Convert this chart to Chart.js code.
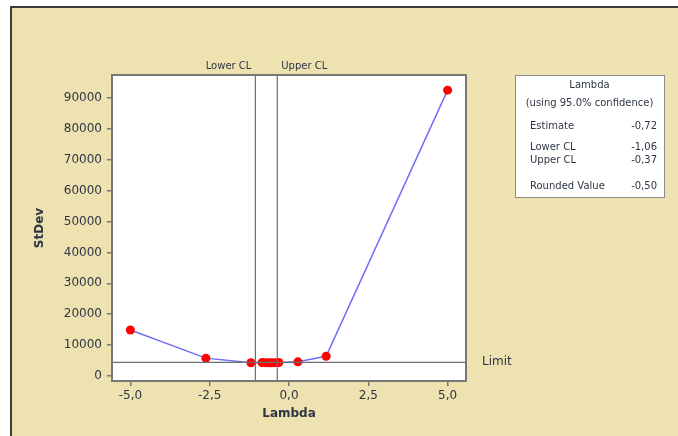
<!DOCTYPE html>
<html>
<head>
<meta charset="utf-8">
<script src="https://cdn.jsdelivr.net/npm/chart.js@4.4.1/dist/chart.umd.min.js"></script>
<style>
  html, body { margin: 0; padding: 0; background: #ffffff; }
  #wrap { width: 678px; height: 436px; }
</style>
</head>
<body>
<div id="wrap"><canvas id="myChart" width="678" height="436"></canvas></div>
<script>
// valeurs
const lambdas = [-5.0, -2.62, -1.2, -0.85, -0.75, -0.65, -0.55, -0.45, -0.32, 0.28, 1.17, 5.0];
const stdevs = [14900, 5800, 4300, 4350, 4330, 4320, 4320, 4330, 4380, 4600, 6400, 92500];
const xTickValues = [-5, -2.5, 0, 2.5, 5];
const xTickLabels = ['-5,0', '-2,5', '0,0', '2,5', '5,0'];
const yTickValues = [0, 10000, 20000, 30000, 40000, 50000, 60000, 70000, 80000, 90000];
const lowerCL = -1.06;
const upperCL = -0.37;
const limitValue = 4430;
const boxLabels = ['Estimate', 'Lower CL', 'Upper CL', 'Rounded Value'];
const boxValues = ['-0,72', '-1,06', '-0,37', '-0,50'];

const xMin = -5.58, xMax = 5.58, yMin = -1600, yMax = 97400;
const fontName = 'DejaVu Sans';
const textColor = '#2e3646';
const refColor = '#6e6e6e';

// fond beige, zone blanche, textes CL / Limit et le cadre Lambda
const decorPlugin = {
    id: 'decor',
    beforeDraw(chart) {
        const c = chart.ctx;
        const a = chart.chartArea;
        c.save();
        c.fillStyle = '#ffffff';
        c.fillRect(0, 0, chart.width, chart.height);
        c.fillStyle = '#efe2b1';
        c.fillRect(11, 7, chart.width - 11, chart.height - 7);
        c.fillStyle = '#3a3a3a';
        c.fillRect(10, 6, chart.width - 10, 2);
        c.fillRect(10, 6, 2, chart.height - 6);
        c.fillStyle = '#ffffff';
        c.fillRect(a.left, a.top, a.right - a.left, a.bottom - a.top);
        c.restore();
    },
    afterDraw(chart) {
        const c = chart.ctx;
        const a = chart.chartArea;
        const xs = chart.scales.x, ys = chart.scales.y;
        c.save();
        c.strokeStyle = '#777777';
        c.lineWidth = 2;
        c.strokeRect(a.left, a.top, a.right - a.left, a.bottom - a.top);

        c.fillStyle = textColor;
        c.font = '10px ' + fontName;
        c.textBaseline = 'middle';
        c.textAlign = 'right';
        c.fillText('Lower CL', xs.getPixelForValue(lowerCL) - 4, a.top - 9);
        c.textAlign = 'left';
        c.fillText('Upper CL', xs.getPixelForValue(upperCL) + 4, a.top - 9);
        c.font = '12px ' + fontName;
        c.fillText('Limit', a.right + 16, ys.getPixelForValue(limitValue));

        // cadre Lambda
        const bx = 515, by = 75, bw = 149, bh = 122;
        c.fillStyle = '#ffffff';
        c.fillRect(bx, by, bw, bh);
        c.strokeStyle = '#8a8a8a';
        c.lineWidth = 1;
        c.strokeRect(bx + 0.5, by + 0.5, bw, bh);
        c.fillStyle = textColor;
        c.font = '10px ' + fontName;
        c.textAlign = 'center';
        c.fillText('Lambda', bx + bw / 2, by + 10);
        c.fillText('(using 95.0% confidence)', bx + bw / 2, by + 28);
        const rowsY = [126, 147, 160, 186];
        for (let i = 0; i < boxLabels.length; i++) {
            c.textAlign = 'left';
            c.fillText(boxLabels[i], 530, rowsY[i]);
            c.textAlign = 'right';
            c.fillText(boxValues[i], 657, rowsY[i]);
        }
        c.restore();
    }
};

const points = lambdas.map((l, i) => ({x: l, y: stdevs[i]}));

let ctx = document.getElementById('myChart').getContext('2d');
let myChart = new Chart(ctx, {
    type: 'scatter',
    data: {
        datasets: [
            {
                data: [{x: xMin, y: limitValue}, {x: xMax, y: limitValue}],
                showLine: true, borderColor: refColor, borderWidth: 1.2,
                pointRadius: 0
            },
            {
                data: [{x: lowerCL, y: yMin}, {x: lowerCL, y: yMax}],
                showLine: true, borderColor: refColor, borderWidth: 1.2,
                pointRadius: 0
            },
            {
                data: [{x: upperCL, y: yMin}, {x: upperCL, y: yMax}],
                showLine: true, borderColor: refColor, borderWidth: 1.2,
                pointRadius: 0
            },
            {
                data: points,
                showLine: true,
                borderColor: '#6f6ff6',
                borderWidth: 1.5,
                backgroundColor: '#ff0000',
                pointBackgroundColor: '#ff0000',
                pointBorderColor: '#ff0000',
                pointRadius: 4.5,
                pointBorderWidth: 0
            }
        ]
    },
    options: {
        responsive: false,
        animation: false,
        events: [],
        layout: {
            padding: {left: 31, top: 75, right: 212, bottom: 13}
        },
        plugins: {
            legend: {display: false},
            tooltip: {enabled: false}
        },
        scales: {
            x: {
                type: 'linear',
                min: xMin,
                max: xMax,
                afterFit: (s) => { s.height = 42; },
                afterBuildTicks: (s) => { s.ticks = xTickValues.map(v => ({value: v})); },
                border: {display: false},
                grid: {drawOnChartArea: false, tickLength: 5, color: '#777777', lineWidth: 1.5},
                ticks: {
                    color: textColor,
                    padding: 3,
                    maxRotation: 0,
                    font: {size: 12, family: fontName},
                    callback: (v, i) => xTickLabels[i]
                },
                title: {
                    display: true,
                    text: 'Lambda',
                    color: textColor,
                    padding: {top: 0, bottom: 2},
                    font: {size: 12, family: fontName, weight: 'bold'}
                }
            },
            y: {
                type: 'linear',
                min: yMin,
                max: yMax,
                afterFit: (s) => { s.width = 81; },
                afterBuildTicks: (s) => { s.ticks = yTickValues.map(v => ({value: v})); },
                border: {display: false},
                grid: {drawOnChartArea: false, tickLength: 5, color: '#777777', lineWidth: 1.5},
                ticks: {
                    color: textColor,
                    padding: 5,
                    font: {size: 12, family: fontName},
                    callback: (v) => String(v)
                },
                title: {
                    display: true,
                    text: 'StDev',
                    color: textColor,
                    padding: {top: 2, bottom: 0},
                    font: {size: 12, family: fontName, weight: 'bold'}
                }
            }
        }
    },
    plugins: [decorPlugin]
});
</script>
</body>
</html>
